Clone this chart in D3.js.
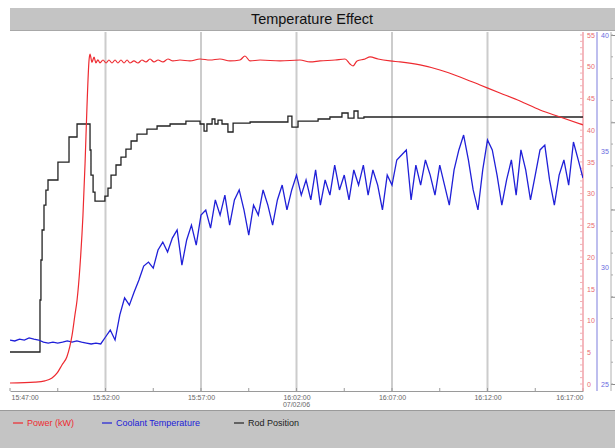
<!DOCTYPE html>
<html><head><meta charset="utf-8">
<script src="https://cdn.jsdelivr.net/npm/d3@7"></script>
<style>body{margin:0;background:#fff}svg{display:block;font-family:"Liberation Sans",Arial,sans-serif}</style>
</head><body>
<svg id="c" width="615" height="448"></svg>
<script>
// ---- data ----
const chartTitle = "Temperature Effect";
const xTickLabels = ["15:47:00","15:52:00","15:57:00","16:02:00","16:07:00","16:12:00","16:17:00"];
const dateLabel = "07/02/06";
const legendLabels = ["Power (kW)","Coolant Temperature","Rod Position"];
const powerTicks = [0,5,10,15,20,25,30,35,40,45,50,55];
const coolantTicks = [25,30,35,40];
const rodTicks = [0,100,200,300,400];

// minutes after 15:47:00
const powerMinutes = [0,1.31,1.83,2.2,2.46,2.72,2.98,3.25,3.40,3.51,3.66,3.82,3.93,4.03,4.14,4.19,4.29,4.40,4.50,4.60,4.71,4.87,5.03,5.18,5.34,5.50,5.65,5.81,5.97,6.13,6.28,6.49,6.70,6.91,7.12,7.33,7.54,7.75,8.01,8.27,8.53,8.90,9.42,9.95,10.47,10.99,11.52,12.04,12.30,12.57,13.09,14.14,15.18,15.71,16.23,17.02,17.54,17.80,17.96,18.17,18.59,18.85,19.27,19.90,20.42,21.47,22.51,23.56,24.61,25.65,26.70,27.75,28.80,30.0];
const powerKW = [0.16,0.3,0.5,0.95,1.7,3.0,4.3,7.7,10.9,13.2,18.4,26.6,34.8,43.7,51.1,52.0,50.7,51.5,50.6,51.1,50.6,51.06,50.59,51.06,50.59,51.06,50.59,51.06,50.59,51.06,50.59,50.91,50.59,51.06,50.75,51.22,50.75,51.06,50.75,51.22,50.91,51.06,50.91,51.22,51.06,51.22,50.91,51.06,51.69,50.91,51.06,50.91,51.06,50.75,50.91,51.06,51.22,50.43,50.12,50.91,51.22,51.54,51.22,50.91,50.75,50.28,49.49,48.39,47.12,45.86,44.60,43.18,42.08,40.82];

// coolant temperature, one sample every 15 s from 15:47:00
const coolantStepMinutes = 0.25;
const coolantTemp = [26.89,26.85,26.93,26.89,26.98,26.93,26.89,26.80,26.76,26.80,26.76,26.80,26.85,26.80,26.85,26.80,26.76,26.72,26.76,26.72,
27.02,27.32,26.89,27.97,28.70,28.39,28.95,29.47,30.07,30.24,29.98,30.76,31.10,30.67,31.27,31.62,30.11,31.19,31.83,30.97,
32.26,32.48,31.70,32.91,32.26,33.12,31.83,32.91,33.34,32.48,31.40,32.69,32.26,33.34,32.69,31.83,32.91,33.55,32.48,33.34,
33.98,33.12,33.77,32.91,34.20,32.69,33.77,33.12,34.41,33.34,33.98,32.91,34.20,33.55,34.41,33.12,34.20,33.55,32.48,33.98,
33.55,34.63,34.84,35.06,32.91,34.41,33.55,34.63,33.98,33.12,34.41,33.55,32.69,34.20,35.06,35.70,34.63,33.34,32.48,34.20,
35.49,35.06,33.98,32.69,33.77,34.63,33.12,35.06,34.20,32.91,33.98,35.06,35.27,33.77,32.69,33.98,34.63,33.55,35.40,34.63,33.85];

const rodMinutes = [0,1.57,1.62,1.68,1.78,1.88,1.99,2.51,3.09,3.51,4.19,4.24,4.35,4.45,4.97,5.13,5.29,5.55,5.81,6.07,6.34,6.65,7.17,7.70,8.38,9.21,9.95,10.16,10.31,10.58,10.73,10.89,11.10,11.41,11.68,12.57,14.55,14.76,15.08,16.13,16.75,17.38,17.70,18.01,18.22,18.53,30];
const rodPos = [36.7,96.3,142.1,176.5,205.1,222.3,233.8,254.4,283.1,298.0,268.2,239.5,220.0,209.7,215.4,224.6,239.5,251.0,260.1,269.3,278.5,286.5,292.2,295.7,298.0,301.4,298.0,289.9,298.0,303.7,298.0,302.5,298.0,288.8,299.1,300.3,307.1,294.5,301.4,303.7,306.0,310.6,304.8,312.9,304.8,306.0,306.0];

// ---- drawing ----
const svg = d3.select("#c");
const start = new Date(2006, 6, 2, 15, 47, 0);
const t = m => new Date(start.getTime() + m * 60000);
const L = 10, R = 583, TOP = 32, BOT = 391;

const x = d3.scaleTime().domain([t(0), t(30)]).range([L, R]);
const yP = d3.scaleLinear().domain([0, 55]).range([384, 35]);
const yC = d3.scaleLinear().domain([25, 40]).range([384, 35]);
const yR = d3.scaleLinear().domain([0, 400]).range([384, 35]);

// title bar
svg.append("rect").attr("x", 10).attr("y", 8).attr("width", 605).attr("height", 22).attr("fill", "#c4c4c4");
svg.append("line").attr("x1", 10).attr("x2", 615).attr("y1", 30.5).attr("y2", 30.5).attr("stroke", "#a8a8a8");
svg.append("text").attr("x", 312).attr("y", 24).attr("text-anchor", "middle").attr("font-size", 14.5).attr("fill", "#111").text(chartTitle);

// grid
const tickTimes = xTickLabels.map((d, i) => t(i * 5));
svg.append("g").selectAll("line").data(tickTimes.slice(1, -1)).join("line")
  .attr("x1", d => x(d)).attr("x2", d => x(d)).attr("y1", TOP).attr("y2", BOT)
  .attr("stroke", "#cccccc").attr("stroke-width", 2);

// x axis
const xa = svg.append("g").attr("transform", `translate(0,${BOT})`)
  .call(d3.axisBottom(x).tickValues(tickTimes).tickSize(0).tickFormat((d, i) => xTickLabels[i]));
xa.select(".domain").attr("stroke", "#9a9a9a");
xa.selectAll("text").attr("font-size", 7).attr("fill", "#666").attr("dy", "0.9em")
  .attr("text-anchor", (d, i) => i === 0 ? "start" : (i === xTickLabels.length - 1 ? "end" : "middle"))
  .attr("dx", (d, i) => i === 0 ? "1" : "0");
svg.append("g").selectAll("line").data(d3.range(0, 30.01, 2.5).map(t)).join("line")
  .attr("x1", d => x(d)).attr("x2", d => x(d)).attr("y1", BOT - 3).attr("y2", BOT).attr("stroke", "#9a9a9a");
svg.append("text").attr("x", x(t(15))).attr("y", 407).attr("text-anchor", "middle").attr("font-size", 7).attr("fill", "#666").text(dateLabel);

// right axes
const pa = svg.append("g").attr("transform", `translate(${R},0)`)
  .call(d3.axisRight(yP).tickValues(powerTicks).tickSize(0).tickPadding(4));
pa.select(".domain").attr("stroke", "#f0a0a8").attr("stroke-width", 1.5).attr("d", `M0,${TOP}V${BOT}`);
pa.selectAll("text").attr("font-size", 7).attr("fill", "#e86a70");
svg.append("g").selectAll("line").data(d3.range(0, 56, 1)).join("line")
  .attr("x1", R - 3).attr("x2", R).attr("y1", d => yP(d)).attr("y2", d => yP(d)).attr("stroke", "#f2b0b5");

const ca = svg.append("g").attr("transform", `translate(597,0)`)
  .call(d3.axisRight(yC).tickValues(coolantTicks).tickSize(0).tickPadding(4));
ca.select(".domain").attr("stroke", "#a8a8e8").attr("stroke-width", 1.5).attr("d", `M0,${TOP}V${BOT}`);
ca.selectAll("text").attr("font-size", 7).attr("fill", "#6a6ae0");

const ra = svg.append("g").attr("transform", `translate(611,0)`)
  .call(d3.axisRight(yR).tickValues(rodTicks).tickSize(4).tickPadding(2));
ra.select(".domain").attr("stroke", "#b0b0b0").attr("d", `M0,${TOP}V${BOT}`);
ra.selectAll(".tick line").attr("stroke", "#888");
ra.selectAll("text").attr("font-size", 7).attr("fill", "#666");
svg.append("g").selectAll("line").data(d3.range(0, 401, 25)).join("line")
  .attr("x1", 611).attr("x2", 613).attr("y1", d => yR(d)).attr("y2", d => yR(d)).attr("stroke", "#aaa");

// series
const clip = svg.append("defs").append("clipPath").attr("id", "pc").append("rect")
  .attr("x", L).attr("y", TOP).attr("width", R - L).attr("height", BOT - TOP);
const g = svg.append("g").attr("clip-path", "url(#pc)");

g.append("path").datum(rodMinutes.map((m, i) => [t(m), rodPos[i]]))
  .attr("fill", "none").attr("stroke", "#222").attr("stroke-width", 1.3)
  .attr("d", d3.line().x(d => x(d[0])).y(d => yR(d[1])).curve(d3.curveStepAfter));

g.append("path").datum(coolantTemp.map((v, i) => [t(i * coolantStepMinutes), v]))
  .attr("fill", "none").attr("stroke", "#2020d8").attr("stroke-width", 1.3)
  .attr("d", d3.line().x(d => x(d[0])).y(d => yC(d[1])));

g.append("path").datum(powerMinutes.map((m, i) => [t(m), powerKW[i]]))
  .attr("fill", "none").attr("stroke", "#ee2a30").attr("stroke-width", 1.2)
  .attr("d", d3.line().x(d => x(d[0])).y(d => yP(d[1])).curve(d3.curveMonotoneX));

// legend band
svg.append("rect").attr("x", 0).attr("y", 411).attr("width", 615).attr("height", 37).attr("fill", "#c4c4c4");
svg.append("line").attr("x1", 0).attr("x2", 615).attr("y1", 410.5).attr("y2", 410.5).attr("stroke", "#9a9a9a");
const legColors = ["#ee2a30", "#2020d8", "#222"];
const legX = [13, 102, 234];
const lg = svg.append("g").selectAll("g").data(legendLabels).join("g")
  .attr("transform", (d, i) => `translate(${legX[i]},423)`);
lg.append("line").attr("x1", 0).attr("x2", 10).attr("y1", 0).attr("y2", 0).attr("stroke", (d, i) => legColors[i]).attr("stroke-width", 1.2);
lg.append("text").attr("x", 14).attr("y", 3).attr("font-size", 9).attr("fill", (d, i) => legColors[i]).text(d => d);
</script>
</body></html>
